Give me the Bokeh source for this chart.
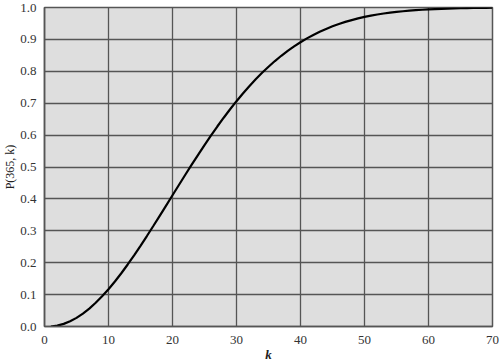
from bokeh.plotting import figure
from bokeh.models import FixedTicker, Range1d
from bokeh.embed import file_html
from bokeh.resources import INLINE

k_values = list(range(1, 71))
p_values = [
    0.0000, 0.0027, 0.0082, 0.0164, 0.0271, 0.0405, 0.0562, 0.0743, 0.0946, 0.1169,
    0.1411, 0.1670, 0.1944, 0.2231, 0.2529, 0.2836, 0.3150, 0.3469, 0.3791, 0.4114,
    0.4437, 0.4757, 0.5073, 0.5383, 0.5687, 0.5982, 0.6269, 0.6545, 0.6810, 0.7063,
    0.7305, 0.7533, 0.7750, 0.7953, 0.8144, 0.8322, 0.8487, 0.8641, 0.8782, 0.8912,
    0.9032, 0.9140, 0.9239, 0.9329, 0.9410, 0.9483, 0.9548, 0.9606, 0.9658, 0.9704,
    0.9744, 0.9780, 0.9811, 0.9839, 0.9863, 0.9883, 0.9901, 0.9917, 0.9930, 0.9941,
    0.9951, 0.9959, 0.9966, 0.9972, 0.9977, 0.9981, 0.9984, 0.9987, 0.9990, 0.9992,
]
x_ticks = [0, 10, 20, 30, 40, 50, 60, 70]
y_ticks = [0.0, 0.1, 0.2, 0.3, 0.4, 0.5, 0.6, 0.7, 0.8, 0.9, 1.0]
y_tick_labels = {t: f"{t:.1f}" for t in y_ticks}
y_label = "P(365, k)"
x_label = "k"

FONT = "Liberation Serif"

p = figure(width=500, height=364, output_backend="svg", toolbar_location=None,
           x_range=Range1d(0, 70), y_range=Range1d(0, 1.0),
           min_border_left=44, min_border_right=8, min_border_top=7, min_border_bottom=37)
p.background_fill_color = "#dedede"
p.border_fill_color = "white"
p.outline_line_color = "#555555"
p.outline_line_width = 1.5

p.line(k_values, p_values, line_color="black", line_width=2.2)

p.xaxis.ticker = FixedTicker(ticks=x_ticks)
p.yaxis.ticker = FixedTicker(ticks=y_ticks)
p.yaxis.major_label_overrides = y_tick_labels

p.axis.major_tick_line_color = None
p.axis.minor_tick_line_color = None
p.axis.axis_line_color = "#555555"
p.axis.axis_line_width = 1.5
p.axis.major_label_text_font = FONT
p.axis.major_label_text_font_size = "13px"
p.axis.major_label_text_color = "#333333"
p.yaxis.major_label_standoff = 2
p.xaxis.major_label_standoff = 3

p.yaxis.axis_label = y_label
p.yaxis.axis_label_text_font = FONT
p.yaxis.axis_label_text_font_size = "12px"
p.yaxis.axis_label_text_font_style = "normal"
p.yaxis.axis_label_text_color = "#222222"
p.yaxis.axis_label_standoff = 0

p.xaxis.axis_label = x_label
p.xaxis.axis_label_text_font = FONT
p.xaxis.axis_label_text_font_size = "13px"
p.xaxis.axis_label_text_font_style = "bold italic"
p.xaxis.axis_label_text_color = "#222222"
p.xaxis.axis_label_standoff = 0

p.xgrid.ticker = FixedTicker(ticks=x_ticks)
p.ygrid.ticker = FixedTicker(ticks=y_ticks)
p.grid.grid_line_color = "#555555"
p.grid.grid_line_width = 1.3
p.grid.grid_line_alpha = 1.0

open("out.html", "w").write(file_html(p, INLINE))
